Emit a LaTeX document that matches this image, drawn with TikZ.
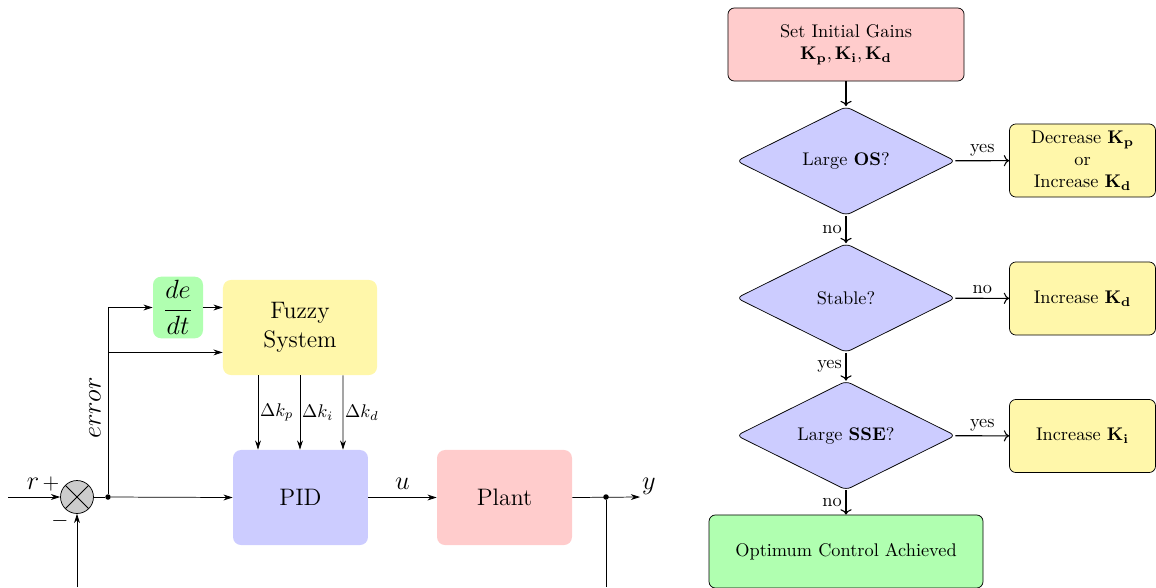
\documentclass[tikz,border=0pt]{standalone}
\usetikzlibrary{shapes.geometric,arrows.meta,calc}
\definecolor{fy}{HTML}{FFF7AA}
\definecolor{fg}{HTML}{B0FFB0}
\definecolor{fb}{HTML}{CCCCFF}
\definecolor{fr}{HTML}{FFCCCC}
\tikzset{
  blk/.style={rounded corners=4.4pt, align=center, font=\fontsize{13}{16}\selectfont, inner sep=2pt},
  lbl/.style={font=\fontsize{14}{17}\selectfont, inner sep=1pt},
  arr/.style={-{Stealth[length=5pt,width=3.2pt]}},
  sumc/.style={circle, draw, fill=gray!40, minimum size=18pt, inner sep=0pt,
    path picture={\draw (path picture bounding box.north west)--(path picture bounding box.south east)
      (path picture bounding box.north east)--(path picture bounding box.south west);}},
  jdot/.style={circle, fill=black, minimum size=3pt, inner sep=0pt},
  fbox/.style={draw, rounded corners=3.5pt, align=center, minimum width=79.7pt, minimum height=39.9pt, inner sep=2pt},
  dia/.style={diamond, draw, fill=fb, rounded corners=3pt, minimum width=119.5pt, minimum height=59.5pt, inner sep=0pt, aspect=2},
  farr/.style={->, semithick},
  fl/.style={inner sep=2pt}
}
\begin{document}
\begin{tikzpicture}[x=0.546pt,y=-0.546pt]
\useasboundingbox (0,0) rectangle (1156,587);
% ---------- left block diagram ----------
\coordinate (in) at (8,497);
\node[sumc] (sum) at (77,497) {};
\node[jdot] (j1) at (108,497) {};
\node[blk, fill=fg, minimum width=27.3pt, minimum height=32.2pt, font=\fontsize{14}{17}\selectfont] (dedt) at (178,307.5) {$\displaystyle\frac{de}{dt}$};
\node[blk, fill=fy, minimum width=84.1pt, minimum height=51.9pt] (fuzzy) at (300,327.5) {Fuzzy\\System};
\node[blk, fill=fb, minimum width=73.7pt, minimum height=51.9pt] (pid) at (300.5,497.5) {PID};
\node[blk, fill=fr, minimum width=73.7pt, minimum height=51.9pt] (plant) at (504.5,497.5) {Plant};
\node[jdot] (j2) at (606,497) {};
\coordinate (out) at (640,497);
\coordinate (fb1) at (606,587);
\coordinate (fb2) at (77,587);

\node[lbl] (r) at (33,484) {$r$};
\node[lbl, font=\fontsize{12}{14}\selectfont] (plus) at (51,484) {$+$};
\node[lbl, font=\fontsize{12}{14}\selectfont] (minus) at (60,521) {$-$};
\node[lbl, rotate=90] (err) at (95,408) {$error$};

\draw[arr] (in) -- (sum.west);
\draw (sum.east) -- (j1);
\draw[arr] (j1) -- (pid.west);
\draw[arr] (j1) |- (dedt.west);
\draw[arr] (j1) |- ($(fuzzy.south west)!0.24!(fuzzy.north west)$);
\draw[arr] (dedt.east) -- (dedt.east -| fuzzy.west);
\draw[arr] ($(fuzzy.south)+(-42,0)$) -- ($(pid.north)+(-42.5,0)$) node[midway, right, inner sep=1pt] {$\Delta k_p$};
\draw[arr] (fuzzy.south) -- ($(pid.north)+(-0.5,0)$) node[midway, right, inner sep=1pt] {$\Delta k_i$};
\draw[arr] ($(fuzzy.south)+(43,0)$) -- ($(pid.north)+(42.5,0)$) node[midway, right, inner sep=1pt] {$\Delta k_d$};
\draw[arr] (pid.east) -- node[lbl, above, inner sep=4pt] {$u$} (plant.west);
\draw[arr] (plant.east) -- (out) node[lbl, above right, inner sep=1pt] {$y$};
\draw (j2) -- (fb1);
\draw[arr] (fb2) -- (sum.south);

% ---------- right flowchart ----------
\node[fbox, fill=fr, minimum width=128.9pt] (init) at (846,44.5) {Set Initial Gains\\$\mathbf{K_p},\mathbf{K_i},\mathbf{K_d}$};
\node[dia] (d1) at (846,161) {Large \textbf{OS}?};
\node[dia] (d2) at (846,298) {Stable?};
\node[dia] (d3) at (846,435.5) {Large \textbf{SSE}?};
\node[fbox, fill=fy] (a1) at (1082.5,160.5) {Decrease $\mathbf{K_p}$\\or\\Increase $\mathbf{K_d}$};
\node[fbox, fill=fy] (a2) at (1082.5,298.5) {Increase $\mathbf{K_d}$};
\node[fbox, fill=fy] (a3) at (1082.5,436) {Increase $\mathbf{K_i}$};
\node[fbox, fill=fg, minimum width=149.6pt] (opt) at (846,551.5) {Optimum Control Achieved};

\draw[farr] (init) -- (d1);
\draw[farr] (d1) -- node[fl, above] {yes} (a1);
\draw[farr] (d1) -- node[fl, left] {no} (d2);
\draw[farr] (d2) -- node[fl, above] {no} (a2);
\draw[farr] (d2) -- node[fl, left] {yes} (d3);
\draw[farr] (d3) -- node[fl, above] {yes} (a3);
\draw[farr] (d3) -- node[fl, left] {no} (opt);
\end{tikzpicture}
\end{document}
